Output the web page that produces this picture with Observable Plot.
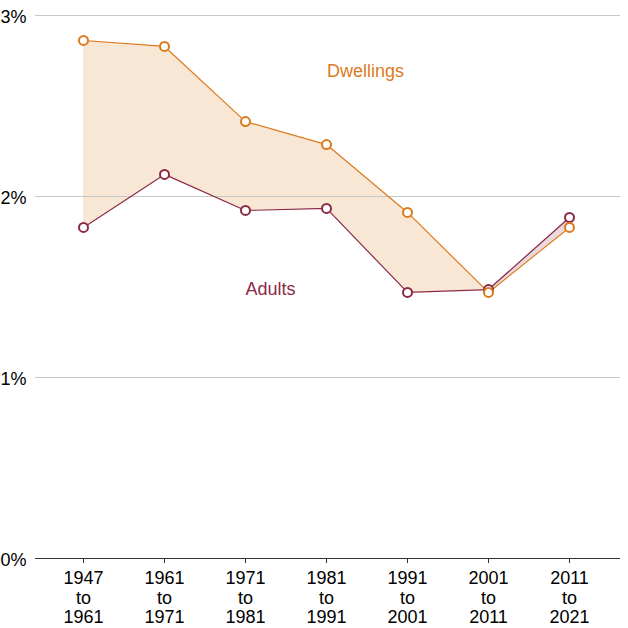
<!DOCTYPE html>
<html><head><meta charset="utf-8">
<script src="https://cdn.jsdelivr.net/npm/d3@7"></script>
<script src="https://cdn.jsdelivr.net/npm/@observablehq/plot@0.6"></script>
<style>body{margin:0;background:#fff;font-family:"Liberation Sans",Arial,sans-serif}</style>
</head><body><div id="chart"></div>
<script>
const periods = ["1947\nto\n1961","1961\nto\n1971","1971\nto\n1981","1981\nto\n1991","1991\nto\n2001","2001\nto\n2011","2011\nto\n2021"];
const dwellings = [2.862, 2.829, 2.414, 2.287, 1.912, 1.470, 1.829];
const adults = [1.829, 2.122, 1.923, 1.934, 1.470, 1.486, 1.884];
const yTicks = [0, 1, 2, 3];

const orange = "#DD7A1E";
const maroon = "#8B2A45";
const data = periods.map((p, i) => ({period: p, dwellings: dwellings[i], adults: adults[i]}));

const marks = [];
if (Plot.differenceY) {
  marks.push(Plot.differenceY(data, {x: "period", y1: "adults", y2: "dwellings",
    positiveFill: orange, negativeFill: maroon, fillOpacity: 0.18, stroke: "none"}));
} else {
  marks.push(Plot.areaY(data, {x: "period", y1: "adults", y2: "dwellings", fill: orange, fillOpacity: 0.18}));
}
marks.push(
  Plot.ruleY([1, 2, 3], {stroke: "#c8c8c8", strokeWidth: 1}),
  Plot.ruleY([0], {stroke: "#333", strokeWidth: 1}),
  Plot.lineY(data, {x: "period", y: "adults", stroke: maroon, strokeWidth: 1.2}),
  Plot.lineY(data, {x: "period", y: "dwellings", stroke: orange, strokeWidth: 1.2}),
  Plot.dot(data, {x: "period", y: "adults", r: 4.5, fill: "white", stroke: maroon, strokeWidth: 2}),
  Plot.dot(data, {x: "period", y: "dwellings", r: 4.5, fill: "white", stroke: orange, strokeWidth: 2}),
  Plot.text(["Dwellings"], {x: () => periods[3], y: () => 2.69, text: d => d, dx: 39, fill: orange, fontSize: 18}),
  Plot.text(["Adults"], {x: () => periods[2], y: () => 1.49, text: d => d, dx: 25, fill: maroon, fontSize: 18}),
  Plot.axisY(yTicks, {tickSize: 0, tickPadding: 35, textAnchor: "start", tickFormat: d => d + "%", fontSize: 18, fill: "#000", dy: 2}),
  Plot.axisX({tickSize: 5, tickPadding: 7, fontSize: 18, fill: "#000", stroke: "#333", lineHeight: 1.08})
);

const chart = Plot.plot({
  width: 628,
  height: 628,
  marginLeft: 35,
  marginRight: 8,
  marginTop: 15,
  marginBottom: 70,
  style: {fontFamily: "'Liberation Sans', Arial, sans-serif", fontSize: "18px", color: "#000", background: "#fff"},
  x: {type: "point", domain: periods, range: [83, 569], padding: 0, label: null},
  y: {domain: [0, 3], label: null},
  marks
});
document.getElementById("chart").append(chart);
</script>
</body></html>
